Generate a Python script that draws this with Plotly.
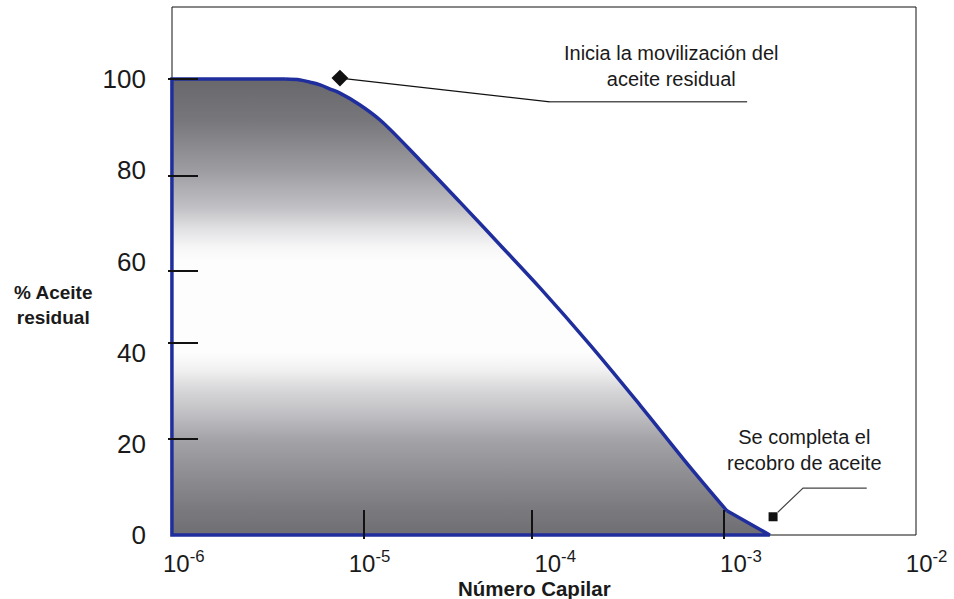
import plotly.graph_objects as go

# ---------------- data ----------------
# residual-oil curve: capillary number vs % residual oil
cap_number = [8.63e-7, 8.63e-7, 3.51e-6, 4.23e-6, 4.79e-6, 5.42e-6, 6.14e-6,
              6.93e-6, 8.89e-6, 1.14e-5, 1.87e-5, 3.07e-5, 5.05e-5, 8.28e-5,
              1.54e-4, 2.86e-4, 5.32e-4, 8.41e-4, 1.43e-3]
residual_oil = [0, 100, 100, 99.8, 99.3, 98.7, 97.8,
                96.9, 94.3, 91.0, 82.2, 73.0, 63.6, 54.2,
                41.7, 28.5, 14.9, 5.3, 0]

# x tick labels
x_tickvals = [1e-6, 1e-5, 1e-4, 1e-3, 1e-2]
x_ticktext = ["10<sup>-6</sup>", "10<sup>-5</sup>", "10<sup>-4</sup>",
              "10<sup>-3</sup>", "10<sup>-2</sup>"]
y_tickvals = [0, 20, 40, 60, 80, 100]

# hand-drawn tick marks inside the frame
x_tickmarks = [9.34e-6, 7.50e-5, 8.11e-4]
y_tickmarks = [21.05, 42.1, 57.9, 78.7, 100]

# annotation anchor points and leader lines
start_mark_x, start_mark_y = [6.93e-6], [100.2]
start_leader_x = [6.93e-6, 9.37e-5]
start_leader_y = [100.2, 95.0]
start_shelf_x = [9.37e-5, 1.08e-3]
start_shelf_y = [95.0, 95.0]

end_mark_x, end_mark_y = [1.49e-3], [4.0]
end_leader_x = [1.58e-3, 2.16e-3, 4.76e-3]
end_leader_y = [5.0, 10.3, 10.3]

# ---------------- styling ----------------
FONT = "Liberation Sans, Arial, sans-serif"
BLUE = "#1f2e9c"
TXT = "#1a1a1a"

gradient = [
    [0.00, "#6e6e73"],
    [0.06, "#7a7a7f"],
    [0.12, "#8a8a8f"],
    [0.21, "#a4a4a8"],
    [0.26, "#bdbdc1"],
    [0.32, "#d8d8da"],
    [0.36, "#f0f0f1"],
    [0.40, "#fdfdfd"],
    [0.60, "#fdfdfd"],
    [0.63, "#f6f6f7"],
    [0.67, "#e2e2e4"],
    [0.72, "#c0c0c4"],
    [0.80, "#9c9ca1"],
    [0.91, "#76767b"],
    [1.00, "#68686c"],
]
grad = dict(type="vertical", colorscale=gradient, start=0, stop=100)
NOLINE = dict(width=0, color="rgba(0,0,0,0)")

fig = go.Figure()

# flat plateau block (left part of the area)
fig.add_trace(go.Scatter(
    x=[cap_number[0], cap_number[1], cap_number[3], cap_number[3]],
    y=[residual_oil[0], residual_oil[1], residual_oil[2], residual_oil[0]],
    mode="lines", fill="toself", fillgradient=grad, line=NOLINE,
    hoverinfo="skip", showlegend=False,
))
# tail block (last straight segment after the kink)
fig.add_trace(go.Scatter(
    x=[cap_number[-3], cap_number[-2], cap_number[-1], cap_number[-3]],
    y=[residual_oil[-3], residual_oil[-2], residual_oil[-1], residual_oil[-1]],
    mode="lines", fill="toself", fillgradient=grad, line=NOLINE,
    hoverinfo="skip", showlegend=False,
))
# smooth descending curve with its area (up to the kink)
fig.add_trace(go.Scatter(
    x=cap_number[2:-1], y=residual_oil[2:-1],
    mode="lines", line=dict(color=BLUE, width=3.5, shape="spline", smoothing=1),
    fill="tozeroy", fillgradient=grad,
    hoverinfo="skip", showlegend=False,
))
# outline: plateau top, left edge, base line and last straight segment
fig.add_trace(go.Scatter(
    x=[cap_number[2], cap_number[1], cap_number[0], cap_number[-1], cap_number[-2]],
    y=[residual_oil[2], residual_oil[1], residual_oil[0], residual_oil[-1], residual_oil[-2]],
    mode="lines", line=dict(color=BLUE, width=3.5),
    hoverinfo="skip", showlegend=False,
))

# leader lines
fig.add_trace(go.Scatter(x=start_leader_x, y=start_leader_y, mode="lines",
                         line=dict(color="#111111", width=1.2),
                         showlegend=False, hoverinfo="skip"))
fig.add_trace(go.Scatter(x=start_shelf_x, y=start_shelf_y, mode="lines",
                         line=dict(color="#555555", width=1.5),
                         showlegend=False, hoverinfo="skip"))
fig.add_trace(go.Scatter(x=end_leader_x, y=end_leader_y, mode="lines",
                         line=dict(color="#444444", width=1.2),
                         showlegend=False, hoverinfo="skip"))
# markers
fig.add_trace(go.Scatter(x=start_mark_x, y=start_mark_y, mode="markers",
                         marker=dict(symbol="diamond", size=13, color="#111111"),
                         showlegend=False, hoverinfo="skip"))
fig.add_trace(go.Scatter(x=end_mark_x, y=end_mark_y, mode="markers",
                         marker=dict(symbol="square", size=9, color="#111111"),
                         showlegend=False, hoverinfo="skip"))

# invisible trace so the overlay tick-mark axes get drawn
fig.add_trace(go.Scatter(x=x_tickmarks, y=y_tickmarks[:3], xaxis="x2", yaxis="y2",
                         mode="markers", marker=dict(opacity=0),
                         showlegend=False, hoverinfo="skip"))

XR = [-6.0851, -1.9279]
YR = [-0.877, 115.79]

fig.update_layout(
    width=954, height=599,
    margin=dict(l=168, r=14, t=7, b=60),
    paper_bgcolor="white", plot_bgcolor="white",
    font=dict(family=FONT, color=TXT),
    xaxis=dict(type="log", range=XR, tickvals=x_tickvals, ticktext=x_ticktext,
               showgrid=False, zeroline=False, showline=False, ticks="",
               ticklabelstandoff=8,
               tickfont=dict(size=24, family=FONT, color=TXT)),
    yaxis=dict(range=YR, tickvals=y_tickvals, showgrid=False, zeroline=False,
               showline=False, ticks="", ticklabelstandoff=21,
               tickfont=dict(size=26, family=FONT, color=TXT)),
    xaxis2=dict(type="log", range=XR, overlaying="x", anchor="y", side="bottom",
                tickvals=x_tickmarks, ticks="inside", ticklen=29, tickwidth=2,
                tickcolor="#111111", showticklabels=False, showgrid=False,
                zeroline=False, showline=False),
    yaxis2=dict(range=YR, overlaying="y", anchor="x", side="left",
                tickvals=y_tickmarks, ticks="inside", ticklen=30, tickwidth=2,
                tickcolor="#111111", showticklabels=False, showgrid=False,
                zeroline=False, showline=False),
)

# frame (paper coordinates)
def px_x(p):
    return (p - 168) / 772.0

def px_y(p):
    return (539 - p) / 532.0

frame = dict(type="line", xref="paper", yref="paper", layer="below",
             line=dict(color="#111111", width=1))
fig.add_shape(**frame, x0=px_x(172), x1=px_x(916), y0=px_y(7), y1=px_y(7))
fig.add_shape(**frame, x0=px_x(172), x1=px_x(172), y0=px_y(7), y1=px_y(535))
fig.add_shape(**frame, x0=px_x(916), x1=px_x(916), y0=px_y(7), y1=px_y(535))
fig.add_shape(**frame, x0=px_x(770), x1=px_x(916), y0=px_y(535), y1=px_y(535))

# texts
fig.add_annotation(text="Inicia la movilización del<br>aceite residual",
                   xref="paper", yref="paper", x=px_x(671), y=px_y(66),
                   xanchor="center", yanchor="middle", showarrow=False,
                   font=dict(size=20, family=FONT, color=TXT))
fig.add_annotation(text="Se completa el<br>recobro de aceite",
                   xref="paper", yref="paper", x=px_x(804), y=px_y(450),
                   xanchor="center", yanchor="middle", showarrow=False,
                   font=dict(size=20, family=FONT, color=TXT))
fig.add_annotation(text="<b>% Aceite<br>residual</b>",
                   xref="paper", yref="paper", x=px_x(53), y=px_y(305),
                   xanchor="center", yanchor="middle", showarrow=False,
                   font=dict(size=19, family=FONT, color=TXT))
fig.add_annotation(text="<b>Número Capilar</b>",
                   xref="paper", yref="paper", x=px_x(534), y=px_y(588),
                   xanchor="center", yanchor="middle", showarrow=False,
                   font=dict(size=20.5, family=FONT, color=TXT))

fig.write_html("out.html")
